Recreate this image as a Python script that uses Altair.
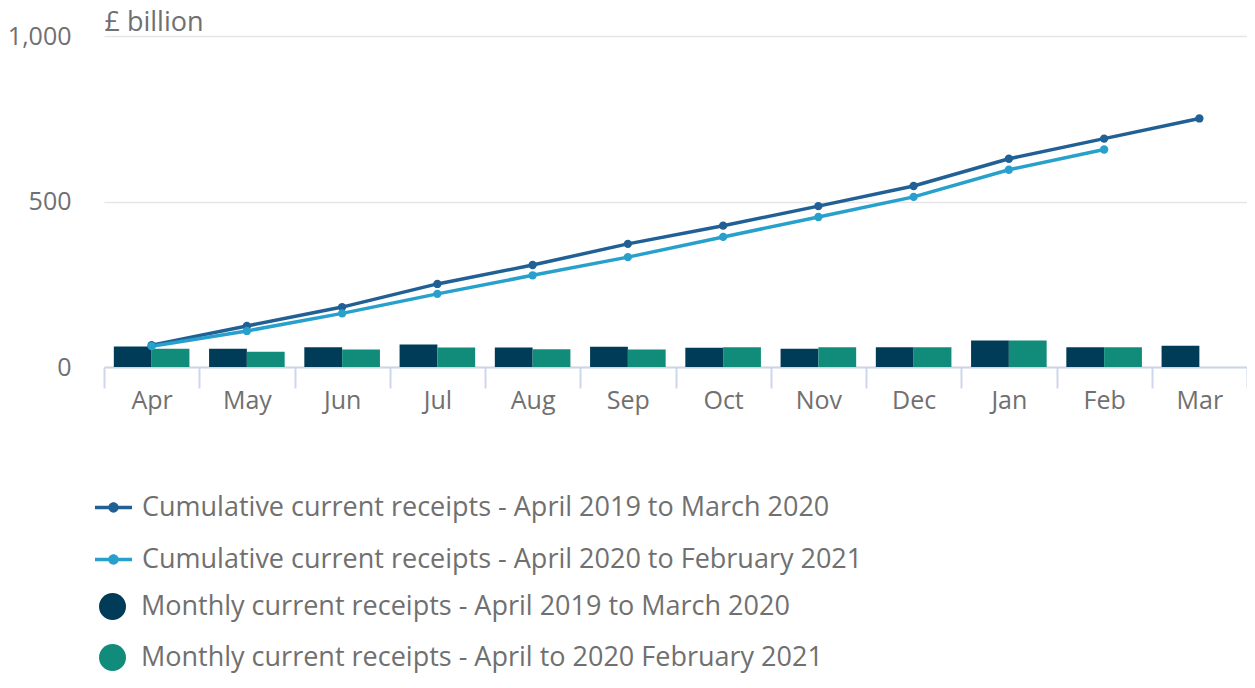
import altair as alt
import pandas as pd

months = ["Apr", "May", "Jun", "Jul", "Aug", "Sep", "Oct", "Nov", "Dec", "Jan", "Feb", "Mar"]

cum_label_19 = "Cumulative current receipts - April 2019 to March 2020"
cum_label_20 = "Cumulative current receipts - April 2020 to February 2021"
mon_label_19 = "Monthly current receipts - April 2019 to March 2020"
mon_label_20 = "Monthly current receipts - April to 2020 February 2021"

cum_2019 = [66, 124, 181, 251, 308, 372, 427, 486, 547, 629, 690, 751]
cum_2020 = [63, 109, 162, 221, 277, 332, 393, 453, 514, 596, 657]
mon_2019 = [62, 55, 60, 68, 59, 61, 58, 55, 60, 80, 60, 64]
mon_2020 = [55, 46, 53, 59, 54, 53, 60, 60, 60, 80, 60]

FONT = "Open Sans"
GREY = "#707070"

lines_df = pd.DataFrame(
    [{"month": m, "series": cum_label_19, "value": v} for m, v in zip(months, cum_2019)]
    + [{"month": m, "series": cum_label_20, "value": v} for m, v in zip(months, cum_2020)]
)
bars_df = pd.DataFrame(
    [{"month": m, "series": mon_label_19, "value": v} for m, v in zip(months, mon_2019)]
    + [{"month": m, "series": mon_label_20, "value": v} for m, v in zip(months, mon_2020)]
)

x_enc = alt.X(
    "month:N",
    sort=months,
    scale=alt.Scale(domain=months, paddingInner=0, paddingOuter=0),
    axis=alt.Axis(
        title=None,
        labelAngle=0,
        tickBand="extent",
        tickSize=21,
        tickColor="#ccd6eb",
        tickWidth=2,
        domainColor="#ccd6eb",
        domainWidth=2,
        labelPadding=0,
        labelFontSize=25,
        labelColor=GREY,
        labelFont=FONT,
        grid=False,
    ),
)

y_enc = alt.Y(
    "value:Q",
    scale=alt.Scale(domain=[0, 1000], nice=False),
    axis=alt.Axis(
        values=[0, 500, 1000],
        format=",.0f",
        title="£ billion",
        titleAngle=0,
        titleAlign="left",
        titleBaseline="alphabetic",
        titleX=0,
        titleY=-6,
        titleFontSize=27,
        titleFontWeight="normal",
        titleColor=GREY,
        titleFont=FONT,
        ticks=False,
        tickSize=0,
        domain=False,
        labelPadding=33,
        labelFontSize=25,
        labelColor=GREY,
        labelFont=FONT,
        labelBaseline="middle",
        gridColor="#e6e6e6",
        gridWidth=1.5,
    ),
)

bars = alt.Chart(bars_df).mark_bar().encode(
    x=x_enc,
    y=y_enc,
    xOffset=alt.XOffset(
        "series:N",
        sort=[mon_label_19, mon_label_20],
        scale=alt.Scale(domain=[mon_label_19, mon_label_20], paddingInner=0, paddingOuter=0.26),
    ),
    fill=alt.Fill(
        "series:N",
        scale=alt.Scale(domain=[mon_label_19, mon_label_20], range=["#003c57", "#118c7b"]),
        legend=alt.Legend(
            title=None,
            orient="none",
            legendX=-5,
            legendY=557,
            symbolType="circle",
            symbolSize=729,
            symbolStrokeWidth=0,
            labelOffset=15,
            rowPadding=23,
            labelFontSize=27,
            labelColor=GREY,
            labelFont=FONT,
            labelLimit=1200,
            padding=0,
        ),
    ),
)

line_symbol = "M-1,-0.1H1V0.1H-1Z M0.28,0A0.28,0.28,0,1,1,-0.28,0A0.28,0.28,0,1,1,0.28,0Z"

lines = alt.Chart(lines_df).mark_line(strokeWidth=3.5).encode(
    x=x_enc,
    y=y_enc,
    color=alt.Color(
        "series:N",
        scale=alt.Scale(domain=[cum_label_19, cum_label_20], range=["#206095", "#27a0cc"]),
        legend=alt.Legend(
            title=None,
            orient="none",
            legendX=-9,
            legendY=453,
            symbolType=line_symbol,
            symbolSize=1369,
            symbolStrokeWidth=0,
            symbolFillColor="#206095",
            labelOffset=10,
            rowPadding=20,
            labelFontSize=27,
            labelColor=GREY,
            labelFont=FONT,
            labelLimit=1200,
            padding=0,
        ),
    ),
)

points = alt.Chart(lines_df).mark_point(filled=True, size=70, opacity=1).encode(
    x=x_enc,
    y=y_enc,
    color=alt.Color("series:N", legend=None),
)

chart = (
    alt.layer(bars, lines, points)
    .properties(
        width=1143,
        height=331,
        autosize=alt.AutoSizeParams(type="none"),
        padding={"left": 96, "top": 28, "right": 0, "bottom": 307},
    )
    .configure(font=FONT)
    .configure_view(strokeWidth=0, stroke="transparent")
)

chart.save("out.html", embed_options={"renderer": "svg", "actions": False})
